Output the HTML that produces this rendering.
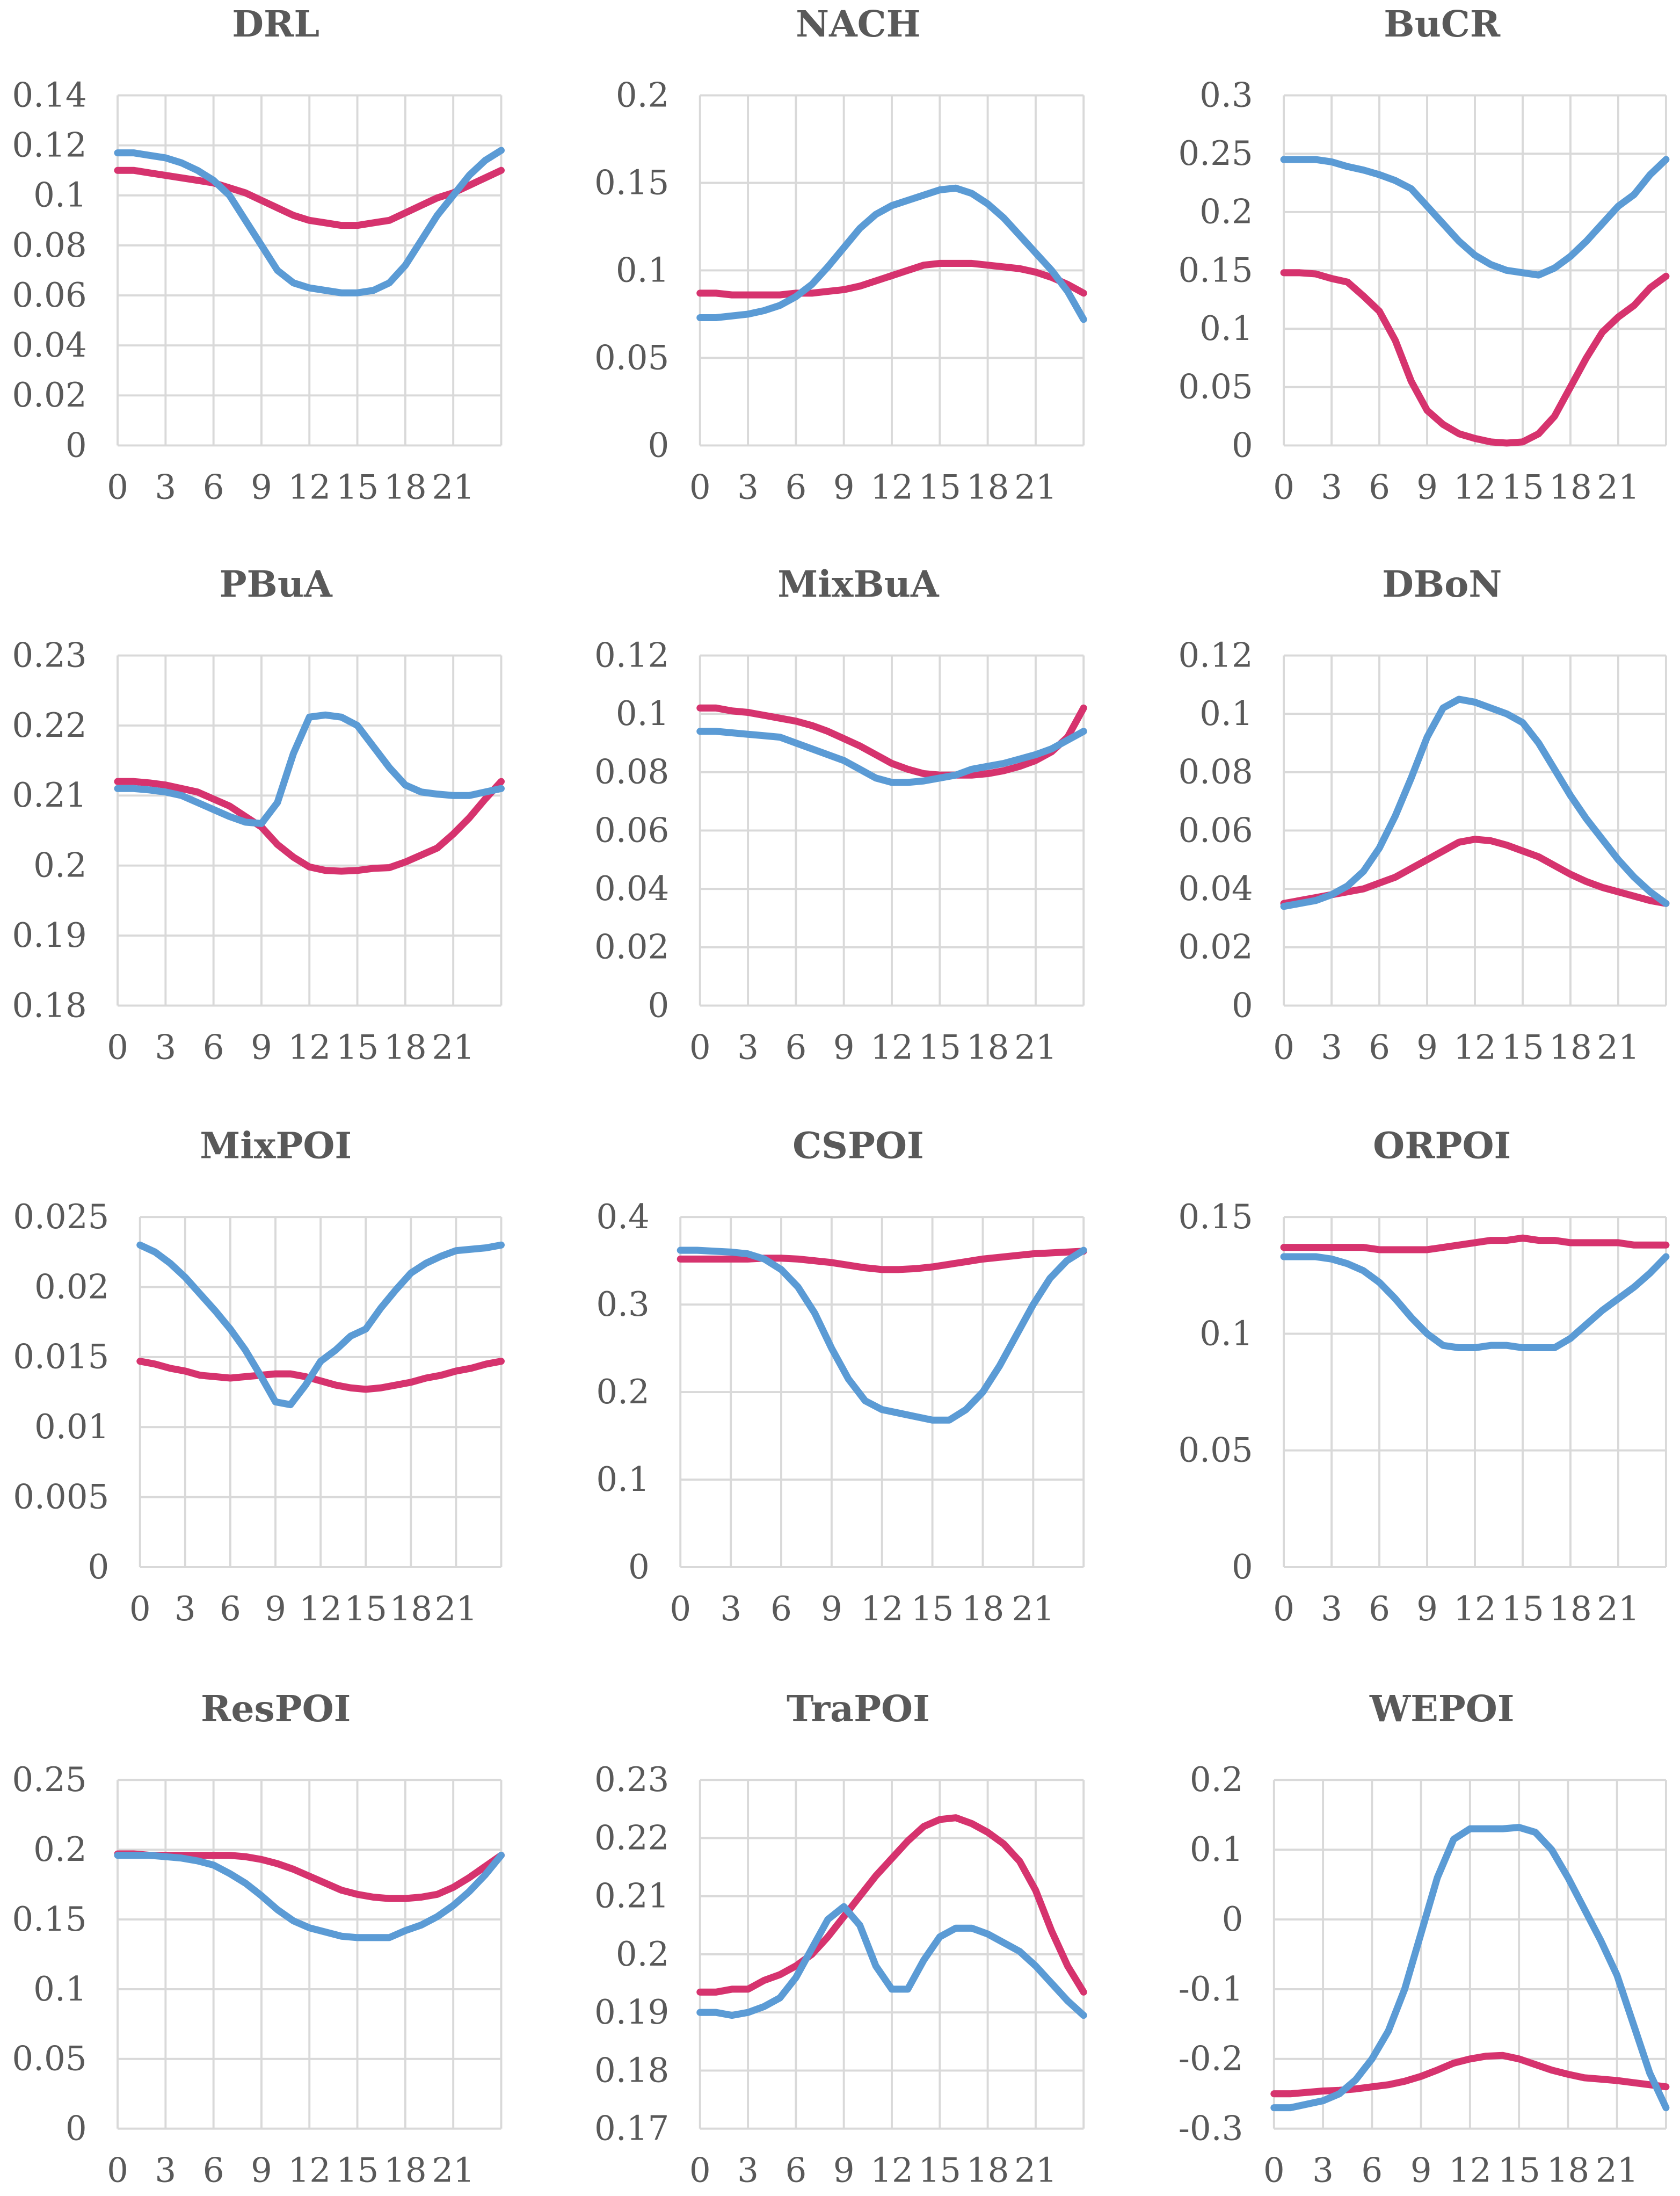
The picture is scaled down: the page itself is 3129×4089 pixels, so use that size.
<!DOCTYPE html>
<html><head><meta charset="utf-8"><style>
html,body{margin:0;padding:0;background:#fff;}
svg{display:block;}
text{font-family:"DejaVu Serif","Liberation Serif",serif;fill:#595959;}
</style></head>
<body>
<svg id="chart" width="3129" height="4089" viewBox="0 0 1200 1568" xmlns="http://www.w3.org/2000/svg"></svg>
<script>
const hours = [0,1,2,3,4,5,6,7,8,9,10,11,12,13,14,15,16,17,18,19,20,21,22,23,24];
const xTickLabels = ["0","3","6","9","12","15","18","21"];

const drlBlue=[0.117,0.117,0.116,0.115,0.113,0.11,0.106,0.1,0.09,0.08,0.07,0.065,0.063,0.062,0.061,0.061,0.062,0.065,0.072,0.082,0.092,0.1,0.108,0.114,0.118];
const drlRed=[0.110,0.110,0.109,0.108,0.107,0.106,0.105,0.103,0.101,0.098,0.095,0.092,0.09,0.089,0.088,0.088,0.089,0.09,0.093,0.096,0.099,0.101,0.104,0.107,0.11];
const nachBlue=[0.073,0.073,0.074,0.075,0.077,0.08,0.085,0.092,0.102,0.113,0.124,0.132,0.137,0.14,0.143,0.146,0.147,0.144,0.138,0.13,0.12,0.11,0.1,0.088,0.072];
const nachRed=[0.087,0.087,0.086,0.086,0.086,0.086,0.087,0.087,0.088,0.089,0.091,0.094,0.097,0.1,0.103,0.104,0.104,0.104,0.103,0.102,0.101,0.099,0.096,0.092,0.087];
const bucrBlue=[0.245,0.245,0.245,0.243,0.239,0.236,0.232,0.227,0.22,0.205,0.19,0.175,0.163,0.155,0.15,0.148,0.146,0.152,0.162,0.175,0.19,0.205,0.215,0.232,0.245];
const bucrRed=[0.148,0.148,0.147,0.143,0.14,0.128,0.115,0.09,0.055,0.03,0.018,0.01,0.006,0.003,0.002,0.003,0.01,0.025,0.05,0.075,0.097,0.11,0.12,0.135,0.145];
const pbuaBlue=[0.211,0.211,0.2108,0.2105,0.21,0.209,0.208,0.207,0.2062,0.206,0.209,0.216,0.2212,0.2215,0.2212,0.22,0.217,0.214,0.2115,0.2105,0.2102,0.21,0.21,0.2105,0.211];
const pbuaRed=[0.212,0.212,0.2118,0.2115,0.211,0.2105,0.2095,0.2085,0.207,0.2055,0.203,0.2012,0.1998,0.1993,0.1992,0.1993,0.1996,0.1997,0.2005,0.2015,0.2025,0.2045,0.2068,0.2095,0.212];
const mixbuaBlue=[0.094,0.094,0.0935,0.093,0.0925,0.092,0.09,0.088,0.086,0.084,0.081,0.078,0.0765,0.0765,0.077,0.078,0.079,0.081,0.082,0.083,0.0845,0.086,0.088,0.091,0.094];
const mixbuaRed=[0.102,0.102,0.101,0.1005,0.0995,0.0985,0.0975,0.096,0.094,0.0915,0.089,0.086,0.083,0.081,0.0795,0.079,0.079,0.079,0.0795,0.0805,0.082,0.084,0.087,0.092,0.102];
const dbonBlue=[0.034,0.035,0.036,0.038,0.041,0.046,0.054,0.065,0.078,0.092,0.102,0.105,0.104,0.102,0.1,0.097,0.09,0.081,0.072,0.064,0.057,0.05,0.044,0.039,0.035];
const dbonRed=[0.035,0.036,0.037,0.038,0.039,0.04,0.042,0.044,0.047,0.05,0.053,0.056,0.057,0.0565,0.055,0.053,0.051,0.048,0.045,0.0425,0.0405,0.039,0.0375,0.036,0.035];
const mixpoiBlue=[0.023,0.0225,0.0217,0.0207,0.0195,0.0183,0.017,0.0155,0.0137,0.0118,0.0116,0.013,0.0147,0.0155,0.0165,0.017,0.0185,0.0198,0.021,0.0217,0.0222,0.0226,0.0227,0.0228,0.023];
const mixpoiRed=[0.0147,0.0145,0.0142,0.014,0.0137,0.0136,0.0135,0.0136,0.0137,0.0138,0.0138,0.0136,0.0133,0.013,0.0128,0.0127,0.0128,0.013,0.0132,0.0135,0.0137,0.014,0.0142,0.0145,0.0147];
const cspoiBlue=[0.362,0.362,0.361,0.36,0.358,0.352,0.34,0.32,0.29,0.25,0.215,0.19,0.18,0.176,0.172,0.168,0.168,0.18,0.2,0.23,0.265,0.3,0.33,0.35,0.362];
const cspoiRed=[0.352,0.352,0.352,0.352,0.352,0.353,0.353,0.352,0.35,0.348,0.345,0.342,0.34,0.34,0.341,0.343,0.346,0.349,0.352,0.354,0.356,0.358,0.359,0.36,0.361];
const orpoiBlue=[0.133,0.133,0.133,0.132,0.13,0.127,0.122,0.115,0.107,0.1,0.095,0.094,0.094,0.095,0.095,0.094,0.094,0.094,0.098,0.104,0.11,0.115,0.12,0.126,0.133];
const orpoiRed=[0.137,0.137,0.137,0.137,0.137,0.137,0.136,0.136,0.136,0.136,0.137,0.138,0.139,0.14,0.14,0.141,0.14,0.14,0.139,0.139,0.139,0.139,0.138,0.138,0.138];
const respoiBlue=[0.196,0.196,0.196,0.195,0.194,0.192,0.189,0.183,0.176,0.167,0.157,0.149,0.144,0.141,0.138,0.137,0.137,0.137,0.142,0.146,0.152,0.16,0.17,0.182,0.196];
const respoiRed=[0.197,0.197,0.196,0.196,0.196,0.196,0.196,0.196,0.195,0.193,0.19,0.186,0.181,0.176,0.171,0.168,0.166,0.165,0.165,0.166,0.168,0.173,0.18,0.188,0.196];
const trapoiBlue=[0.19,0.19,0.1895,0.19,0.191,0.1925,0.196,0.201,0.206,0.2082,0.205,0.198,0.194,0.194,0.199,0.203,0.2045,0.2045,0.2035,0.202,0.2005,0.198,0.195,0.192,0.1895];
const trapoiRed=[0.1935,0.1935,0.194,0.194,0.1955,0.1965,0.198,0.2,0.203,0.2065,0.21,0.2135,0.2165,0.2195,0.222,0.2232,0.2235,0.2225,0.221,0.219,0.216,0.211,0.204,0.198,0.1935];
const wepoiBlue=[-0.27,-0.27,-0.265,-0.26,-0.25,-0.23,-0.2,-0.16,-0.1,-0.02,0.06,0.115,0.13,0.13,0.13,0.132,0.125,0.1,0.06,0.015,-0.03,-0.08,-0.15,-0.22,-0.27];
const wepoiRed=[-0.25,-0.25,-0.248,-0.246,-0.245,-0.243,-0.24,-0.237,-0.232,-0.225,-0.216,-0.206,-0.2,-0.196,-0.195,-0.2,-0.208,-0.216,-0.222,-0.227,-0.229,-0.231,-0.234,-0.237,-0.24];

const drlTicks=["0","0.02","0.04","0.06","0.08","0.1","0.12","0.14"];
const nachTicks=["0","0.05","0.1","0.15","0.2"];
const bucrTicks=["0","0.05","0.1","0.15","0.2","0.25","0.3"];
const pbuaTicks=["0.18","0.19","0.2","0.21","0.22","0.23"];
const mixbuaTicks=["0","0.02","0.04","0.06","0.08","0.1","0.12"];
const dbonTicks=["0","0.02","0.04","0.06","0.08","0.1","0.12"];
const mixpoiTicks=["0","0.005","0.01","0.015","0.02","0.025"];
const cspoiTicks=["0","0.1","0.2","0.3","0.4"];
const orpoiTicks=["0","0.05","0.1","0.15"];
const respoiTicks=["0","0.05","0.1","0.15","0.2","0.25"];
const trapoiTicks=["0.17","0.18","0.19","0.2","0.21","0.22","0.23"];
const wepoiTicks=["-0.3","-0.2","-0.1","0","0.1","0.2"];

const panels=[
 {t:"DRL",tx:197,l:84,r:358,top:68,b:318,ticks:drlTicks,blue:drlBlue,red:drlRed},
 {t:"NACH",tx:613,l:500,r:774,top:68,b:318,ticks:nachTicks,blue:nachBlue,red:nachRed},
 {t:"BuCR",tx:1030,l:917,r:1190,top:68,b:318,ticks:bucrTicks,blue:bucrBlue,red:bucrRed},
 {t:"PBuA",tx:197,l:84,r:358,top:468,b:718,ticks:pbuaTicks,blue:pbuaBlue,red:pbuaRed},
 {t:"MixBuA",tx:613,l:500,r:774,top:468,b:718,ticks:mixbuaTicks,blue:mixbuaBlue,red:mixbuaRed},
 {t:"DBoN",tx:1030,l:917,r:1190,top:468,b:718,ticks:dbonTicks,blue:dbonBlue,red:dbonRed},
 {t:"MixPOI",tx:197,l:100,r:358,top:869,b:1119,ticks:mixpoiTicks,blue:mixpoiBlue,red:mixpoiRed},
 {t:"CSPOI",tx:613,l:486,r:774,top:869,b:1119,ticks:cspoiTicks,blue:cspoiBlue,red:cspoiRed},
 {t:"ORPOI",tx:1030,l:917,r:1190,top:869,b:1119,ticks:orpoiTicks,blue:orpoiBlue,red:orpoiRed},
 {t:"ResPOI",tx:197,l:84,r:358,top:1271,b:1520,ticks:respoiTicks,blue:respoiBlue,red:respoiRed},
 {t:"TraPOI",tx:613,l:500,r:774,top:1271,b:1520,ticks:trapoiTicks,blue:trapoiBlue,red:trapoiRed},
 {t:"WEPOI",tx:1030,l:910,r:1190,top:1271,b:1520,ticks:wepoiTicks,blue:wepoiBlue,red:wepoiRed}
];
const NS="http://www.w3.org/2000/svg";
const svg=document.getElementById('chart');
function mk(tag,attrs,parent){const e=document.createElementNS(NS,tag);for(const k in attrs)e.setAttribute(k,attrs[k]);(parent||svg).appendChild(e);return e;}
panels.forEach(p=>{
 const g=mk('g',{});
 
 
 const tv=p.ticks.map(Number);
 const ymin=tv[0],ymax=tv[tv.length-1];
 const ys=v=>p.b-(v-ymin)/(ymax-ymin)*(p.b-p.top);
 const xs=h=>p.l+h/24*(p.r-p.l);
 const title=mk('text',{x:p.tx,y:p.top-42,'text-anchor':'middle','font-size':26,'font-weight':'bold'},g);
 title.textContent=p.t;
 
 
 p.ticks.forEach((lab,i)=>{
  const y=ys(tv[i]);
  const gl=mk('line',{x1:p.l,x2:p.r,y1:y,y2:y,stroke:'#d9d9d9','stroke-width':1.5},g);
  
  
  const t=mk('text',{x:p.l-22,y:y+8,'text-anchor':'end','font-size':24},g);
  t.textContent=lab;
  
  
 });
 for(let i=0;i<=8;i++){
  const x=xs(i*3);
  const vl=mk('line',{x1:x,x2:x,y1:p.top,y2:p.b,stroke:'#d9d9d9','stroke-width':1.5},g);
  
  
 }
 xTickLabels.forEach((lab,i)=>{
  const t=mk('text',{x:xs(i*3),y:p.b+38,'text-anchor':'middle','font-size':24},g);
  t.textContent=lab;
  
  
 });
 [['red','#d6336e'],['blue','#5b9bd5']].forEach(([k,c])=>{
  const d=p[k].map((v,i)=>(i?'L':'M')+xs(hours[i]).toFixed(2)+' '+ys(v).toFixed(2)).join(' ');
  const pa=mk('path',{d:d,fill:'none',stroke:c,'stroke-width':5,'stroke-linejoin':'round','stroke-linecap':'round'},g);
  
  
 });
});
</script>
</body></html>
